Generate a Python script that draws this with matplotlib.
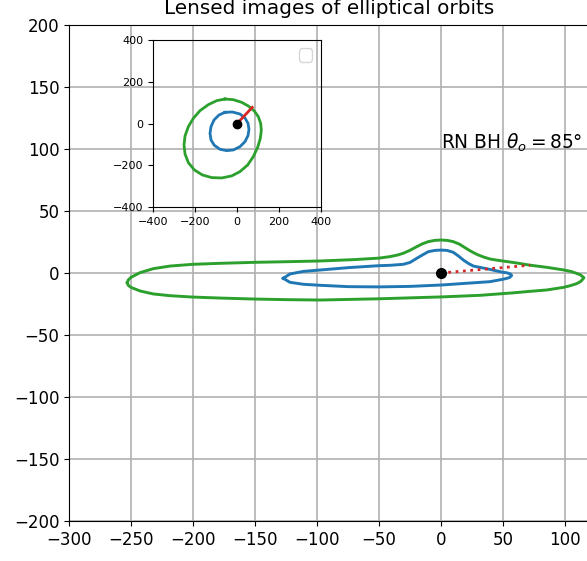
import numpy as np
import matplotlib
matplotlib.use('Agg')
import matplotlib.pyplot as plt

# lensed images, main panel
blue_x = [-127.2, -121.8, -111, -97.6, -75, -50, -41.1, -30.4, -25, -19.6, -15, -10.2, -5, 0, 5, 9.9,
          14, 18, 22, 26.1, 39.5, 50.3, 53, 56, 57, 55.5, 52, 49.7, 39.5, 0, -25, -50, -75, -97.6,
          -111, -121.8, -127.2]
blue_y = [-4.3, -0.8, 1.3, 2.4, 4.3, 5.9, 6.2, 7, 8.5, 11.8, 14.5, 17.2, 18.2, 18.5, 18.2, 16.7,
          13.8, 10.5, 7.8, 5.6, 2.9, 0.5, 0.2, -0.8, -2, -3.6, -4.6, -5.1, -7, -9.7, -10.8, -11.2, -11,
          -9.9, -9.1, -7.5, -4.3]

green_x = [-253, -252.2, -250, -242.7, -232, -218.5, -200.3, -178.2, -150.5, -124.5, -97.6, -70, -50,
           -41.1, -35, -30.4, -25, -19.6, -15, -10.2, -5, 0, 5, 9.9, 15, 19.4, 24, 28.8, 34, 39.5,
           44.9, 49.7, 58.3, 71.8, 85.2, 98.7, 105, 109.4, 112.5, 115.3, 113, 109.4, 104, 98.7, 85.2,
           71.8, 58.3, 44.9, 31.5, 0, -50, -97.6, -124.5, -150.5, -178.2, -200.3, -218.5, -232,
           -242.7, -250, -252.2, -253]
green_y = [-7.8, -5.6, -3.5, 0.3, 3.5, 5.6, 7, 7.8, 8.6, 9.1, 9.7, 10.8, 12,
           13.2, 14.5, 15.9, 18.3, 21.2, 23.5, 25.3, 26.3, 26.6, 26.3, 25.3, 23.2, 20.4, 17.6, 15.1,
           13, 11.3, 10.4, 9.7, 8.5, 6.3, 4.6, 2.5, 1.2, -0.3, -1.5, -3.8, -6.6, -8.6, -10.3, -11.6,
           -13.7, -14.8, -16, -17, -18, -19.3, -20.8, -21.8, -21.5, -21, -20.2, -19.4, -18.3, -16.9,
           -14.5, -11.6, -10, -7.8]

red_x = [0, 72]
red_y = [0, 6.3]

# orbits seen face-on, inset
orb_blue_x = [-57.3, -22.3, 14.3, 38.2, 52.5, 57.3, 52.5, 38.2, 14.3, -17.5, -49.4, -81.2, -108.3,
              -124.2, -129, -124.2, -109.9, -86, -57.3]
orb_blue_y = [54.1, 55.7, 46.2, 27.1, 1.6, -27.1, -57.3, -86, -109.9, -125.8, -129, -122.6, -103.5,
              -78, -46.2, -14.3, 17.5, 41.4, 54.1]

orb_green_x = [-57.3, -17.5, 22.3, 54.1, 82.8, 101.9, 113.1, 116.2, 111.5, 98.7, 78, 51, 14.3, -25.5,
               -73.2, -121, -165.6, -203.8, -232.5, -248.4, -253.2, -248.4, -232.5, -208.6, -176.8,
               -137, -97.1, -57.3]
orb_green_y = [117.8, 114.6, 101.9, 84.4, 60.5, 33.4, 1.6, -30.3, -70.1, -113.1, -157.6, -197.5,
               -229.3, -250, -259.6, -258, -245.2, -221.3, -186.3, -144.9, -101.9, -58.9, -14.3,
               25.5, 62.1, 90.8, 109.9, 117.8]

orb_red_x = [0, 73]
orb_red_y = [0, 78]

plt.rcParams['font.size'] = 12

fig = plt.figure(figsize=(5.87, 5.61), dpi=100)
ax = fig.add_axes([69 / 587, 40 / 561, 521 / 587, 496 / 561])
ax.plot(blue_x, blue_y, color='#1f77b4', lw=2.1)
ax.plot(green_x, green_y, color='#2ca02c', lw=2.1)
ax.plot(red_x, red_y, color='#d62728', lw=2.0, ls=':')
ax.plot([0], [0], 'o', color='black', ms=7)
ax.set_xlim(-300, 120.2)
ax.set_ylim(-200, 200)
ax.set_xticks(np.arange(-300, 101, 50))
ax.set_yticks(np.arange(-200, 201, 50))
ax.grid(True, lw=1.2)
ax.text(0, 100, 'RN BH $\\theta_o=85°$', fontsize=13.4)
ax.set_title('Lensed images of elliptical orbits', pad=8)

ax_in = fig.add_axes([153.3 / 587, 1 - 207.3 / 561, 167.4 / 587, 167.3 / 561])
ax_in.set_facecolor('none')
ax_in.plot(orb_blue_x, orb_blue_y, color='#1f77b4', lw=2.0)
ax_in.plot(orb_green_x, orb_green_y, color='#2ca02c', lw=2.0)
ax_in.plot(orb_red_x, orb_red_y, color='#d62728', lw=2.0)
ax_in.plot([0], [0], 'o', color='black', ms=6)
ax_in.set_xlim(-400, 400)
ax_in.set_ylim(-400, 400)
ax_in.set_xticks([-400, -200, 0, 200, 400])
ax_in.set_yticks([-400, -200, 0, 200, 400])
ax_in.tick_params(labelsize=8)
ax_in.legend(handles=[], loc='upper right')

fig.savefig('out.png', dpi=100)
